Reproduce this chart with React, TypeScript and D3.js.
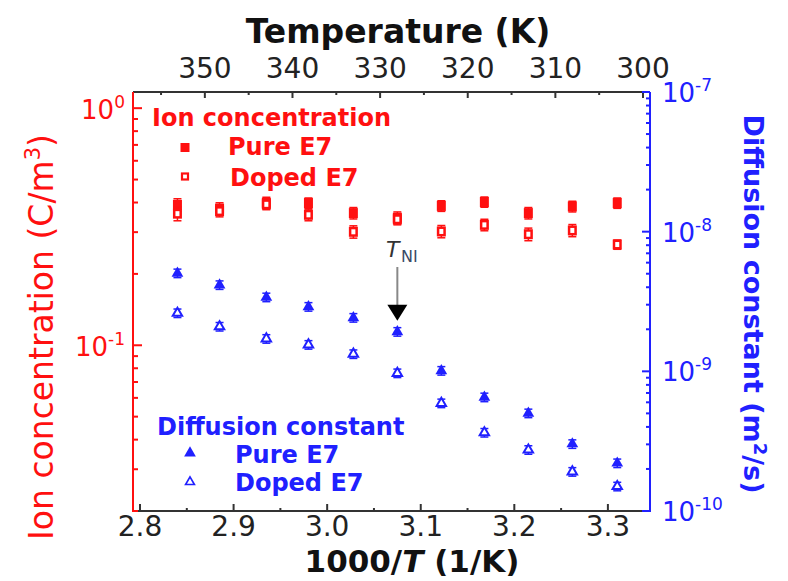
import React from "react";
import * as d3 from "d3";

// 1000/T positions of the measurements
const invT = [2.84, 2.885, 2.935, 2.98, 3.028, 3.075, 3.122, 3.168, 3.215, 3.262, 3.31];

// ion concentration (C/m^3)
const ionPure = [0.391, 0.377, 0.399, 0.398, 0.361, 0.345, 0.387, 0.402, 0.361, 0.385, 0.398];
const ionPureErr = [0.024, 0.022, 0.022, 0.02, 0.02, 0.02, 0.02, 0.02, 0.02, 0.02, 0.02];
const ionDoped = [0.359, 0.368, 0.393, 0.355, 0.301, 0.34, 0.302, 0.322, 0.294, 0.305, 0.266];
const ionDopedErr = [0.024, 0.02, 0.02, 0.02, 0.018, 0.018, 0.018, 0.018, 0.018, 0.018, 0.012];

// diffusion constant (m^2/s)
const diffPure = [5.04e-9, 4.15e-9, 3.39e-9, 2.9e-9, 2.42e-9, 1.92e-9, 1.01e-9, 6.52e-10, 5.01e-10, 3.02e-10, 2.2e-10];
const diffDoped = [2.61e-9, 2.09e-9, 1.71e-9, 1.55e-9, 1.33e-9, 9.7e-10, 5.91e-10, 3.64e-10, 2.74e-10, 1.91e-10, 1.5e-10];
const diffErrFrac = [0.07, 0.07, 0.07, 0.07, 0.07, 0.07, 0.07, 0.07, 0.07, 0.07, 0.07];

const bottomTicks = [2.8, 2.9, 3.0, 3.1, 3.2, 3.3];
const topTicks = [350, 340, 330, 320, 310, 300];
const leftMajors = [1, 0.1];
const rightMajors = [1e-7, 1e-8, 1e-9, 1e-10];

const TNI = 3.075; // 1000/T at the nematic-isotropic transition

const RED = "#ff1010";
const BLUE = "#2020ff";
const AXIS = "#333";
const FONT = "DejaVu Sans, Verdana, sans-serif";

const width = 788;
const height = 581;
const margin = { top: 92, right: 138, bottom: 70, left: 133 };

export default function App() {
  const x0 = margin.left;
  const x1 = width - margin.right;
  const y0 = height - margin.bottom;
  const y1 = margin.top;

  const x = d3.scaleLinear().domain([2.7925, 3.345]).range([x0, x1]);
  // top temperature axis is drawn linear in T in the original
  const xT = d3.scaleLinear().domain([358.2, 299.2]).range([x0, x1]);
  const yL = d3.scaleLog().domain([0.02, 1.17]).range([y0, y1]);
  const yR = d3.scaleLog().domain([1e-10, 1e-7]).range([y0, y1]);

  const leftTicks = yL.ticks();
  const rightTicks = yR.ticks();
  const bottomMinor = d3.range(2.85, 3.34, 0.1);
  const topMinor = d3.range(355, 299, -10);

  const tri = d3.symbol().type(d3.symbolTriangle).size(60);

  const expLabel = (v: number) => Math.round(Math.log10(v));

  return (
    <svg width={width} height={height} style={{ display: "block", position: "absolute", left: 0, top: 0 }} fontFamily={FONT}>
      <rect width={width} height={height} fill="#fff" />

      {/* top axis: temperature */}
      <text x={398} y={43} textAnchor="middle" fontSize={33} fontWeight="bold" fill="#111">
        Temperature (K)
      </text>
      <line x1={x0} x2={x1} y1={y1} y2={y1} stroke={AXIS} strokeWidth={2} />
      {topTicks.map((t) => (
        <g key={t}>
          <line x1={xT(t)} x2={xT(t)} y1={y1} y2={y1 + 6} stroke={AXIS} strokeWidth={2} />
          <text x={xT(t)} y={78} textAnchor="middle" fontSize={28} fill="#222">
            {t}
          </text>
        </g>
      ))}
      {topMinor.map((t) => (
        <line key={t} x1={xT(t)} x2={xT(t)} y1={y1} y2={y1 + 3} stroke={AXIS} strokeWidth={2} />
      ))}

      {/* bottom axis */}
      <line x1={x0} x2={x1} y1={y0} y2={y0} stroke={AXIS} strokeWidth={2} />
      {bottomTicks.map((t) => (
        <g key={t}>
          <line x1={x(t)} x2={x(t)} y1={y0} y2={y0 - 7} stroke={AXIS} strokeWidth={2} />
          <text x={x(t)} y={536} textAnchor="middle" fontSize={28} fill="#222">
            {t.toFixed(1)}
          </text>
        </g>
      ))}
      {bottomMinor.map((t) => (
        <line key={t} x1={x(t)} x2={x(t)} y1={y0} y2={y0 - 3} stroke={AXIS} strokeWidth={2} />
      ))}
      <text x={412} y={572} textAnchor="middle" fontSize={31} fontWeight="bold" fill="#111">
        1000/<tspan fontStyle="italic">T</tspan> (1/K)
      </text>

      {/* left axis: ion concentration */}
      <line x1={x0} x2={x0} y1={y0 + 1} y2={y1} stroke={RED} strokeWidth={2} />
      {leftTicks.map((t) => {
        const major = leftMajors.includes(t);
        return (
          <line key={t} x1={x0} x2={x0 + (major ? 9 : 5)} y1={yL(t)} y2={yL(t)} stroke={RED} strokeWidth={2} />
        );
      })}
      {leftMajors.map((t) => (
        <text key={t} x={125} y={yL(t) + 11} textAnchor="end" fontSize={26} fill={RED}>
          10<tspan dy={-11} fontSize={17}>{expLabel(t)}</tspan>
        </text>
      ))}
      <text
        transform={`translate(53,337) rotate(-90)`}
        textAnchor="middle"
        fontSize={33}
        fill={RED}
      >
        Ion concentration (C/m<tspan dy={-13} fontSize={21}>3</tspan>
        <tspan dy={13}>)</tspan>
      </text>

      {/* right axis: diffusion constant */}
      <line x1={x1} x2={x1} y1={y0 + 1} y2={y1} stroke={BLUE} strokeWidth={2} />
      {rightTicks.map((t) => {
        const major = rightMajors.some((m) => Math.abs(m - t) / m < 1e-6);
        return (
          <line key={t} x1={x1} x2={x1 - (major ? 8 : 4)} y1={yR(t)} y2={yR(t)} stroke={BLUE} strokeWidth={2} />
        );
      })}
      {rightMajors.map((t) => (
        <text key={t} x={662} y={yR(t) + 10} fontSize={26} fill={BLUE}>
          10<tspan dy={-11} fontSize={17}>{expLabel(t)}</tspan>
        </text>
      ))}
      <text
        transform={`translate(744,304) rotate(90)`}
        textAnchor="middle"
        fontSize={27}
        fontWeight="bold"
        fill={BLUE}
      >
        Diffusion constant (m<tspan dy={-10} fontSize={18}>2</tspan>
        <tspan dy={10}>/s)</tspan>
      </text>

      {/* ion concentration: pure */}
      {invT.map((v, i) => (
        <g key={"ip" + i}>
          <line x1={x(v)} x2={x(v)} y1={yL(ionPure[i] + ionPureErr[i])} y2={yL(ionPure[i] - ionPureErr[i])} stroke={RED} strokeWidth={1.5} />
          <line x1={x(v) - 4} x2={x(v) + 4} y1={yL(ionPure[i] + ionPureErr[i])} y2={yL(ionPure[i] + ionPureErr[i])} stroke={RED} strokeWidth={1.5} />
          <line x1={x(v) - 4} x2={x(v) + 4} y1={yL(ionPure[i] - ionPureErr[i])} y2={yL(ionPure[i] - ionPureErr[i])} stroke={RED} strokeWidth={1.5} />
          <rect x={x(v) - 4.5} y={yL(ionPure[i]) - 5} width={9} height={10} fill={RED} />
        </g>
      ))}
      {/* ion concentration: doped */}
      {invT.map((v, i) => (
        <g key={"id" + i}>
          <line x1={x(v)} x2={x(v)} y1={yL(ionDoped[i] + ionDopedErr[i])} y2={yL(ionDoped[i] - ionDopedErr[i])} stroke={RED} strokeWidth={1.5} />
          <line x1={x(v) - 4} x2={x(v) + 4} y1={yL(ionDoped[i] + ionDopedErr[i])} y2={yL(ionDoped[i] + ionDopedErr[i])} stroke={RED} strokeWidth={1.5} />
          <line x1={x(v) - 4} x2={x(v) + 4} y1={yL(ionDoped[i] - ionDopedErr[i])} y2={yL(ionDoped[i] - ionDopedErr[i])} stroke={RED} strokeWidth={1.5} />
          <rect x={x(v) - 3.25} y={yL(ionDoped[i]) - 3.75} width={6.5} height={7.5} fill="#fff" stroke={RED} strokeWidth={2.5} />
        </g>
      ))}

      {/* diffusion: pure */}
      {invT.map((v, i) => {
        const e = diffPure[i] * diffErrFrac[i];
        return (
          <g key={"dp" + i}>
            <line x1={x(v)} x2={x(v)} y1={yR(diffPure[i] + e)} y2={yR(diffPure[i] - e)} stroke={BLUE} strokeWidth={1.5} />
            <line x1={x(v) - 4} x2={x(v) + 4} y1={yR(diffPure[i] + e)} y2={yR(diffPure[i] + e)} stroke={BLUE} strokeWidth={1.5} />
            <line x1={x(v) - 4} x2={x(v) + 4} y1={yR(diffPure[i] - e)} y2={yR(diffPure[i] - e)} stroke={BLUE} strokeWidth={1.5} />
            <path d={tri() as string} transform={`translate(${x(v)},${yR(diffPure[i])})`} fill={BLUE} />
          </g>
        );
      })}
      {/* diffusion: doped */}
      {invT.map((v, i) => {
        const e = diffDoped[i] * diffErrFrac[i];
        return (
          <g key={"dd" + i}>
            <line x1={x(v)} x2={x(v)} y1={yR(diffDoped[i] + e)} y2={yR(diffDoped[i] - e)} stroke={BLUE} strokeWidth={1.5} />
            <line x1={x(v) - 4} x2={x(v) + 4} y1={yR(diffDoped[i] + e)} y2={yR(diffDoped[i] + e)} stroke={BLUE} strokeWidth={1.5} />
            <line x1={x(v) - 4} x2={x(v) + 4} y1={yR(diffDoped[i] - e)} y2={yR(diffDoped[i] - e)} stroke={BLUE} strokeWidth={1.5} />
            <path d={tri() as string} transform={`translate(${x(v)},${yR(diffDoped[i])}) scale(0.8)`} fill="#fff" stroke={BLUE} strokeWidth={2.5} />
          </g>
        );
      })}

      {/* T_NI marker */}
      <text x={386} y={257} fontSize={22} fontStyle="italic" fill="#333">
        T
      </text>
      <text x={401} y={262} fontSize={16} fill="#3a4a66">
        NI
      </text>
      <line x1={x(TNI)} x2={x(TNI)} y1={267} y2={306} stroke="#888" strokeWidth={2} />
      <path
        d={`M${x(TNI) - 10},${yR(diffPure[5]) - 27} L${x(TNI) + 10},${yR(diffPure[5]) - 27} L${x(TNI)},${yR(diffPure[5]) - 11} Z`}
        fill="#000"
      />

      {/* legends */}
      <g fontSize={24} fontWeight="bold">
        <text x={152} y={126} fill={RED}>Ion concentration</text>
        <rect x={180.5} y={143} width={9} height={9} fill={RED} />
        <text x={228} y={155} fill={RED}>Pure E7</text>
        <rect x={182} y={173.5} width={6} height={6} fill="#fff" stroke={RED} strokeWidth={2.2} />
        <text x={230} y={186} fill={RED}>Doped E7</text>

        <text x={157} y={435} fill={BLUE}>Diffusion constant</text>
        <path d={tri() as string} transform={`translate(190,453)`} fill={BLUE} />
        <text x={235} y={463} fill={BLUE}>Pure E7</text>
        <path d={tri() as string} transform={`translate(190,482) scale(0.75)`} fill="#fff" stroke={BLUE} strokeWidth={2.2} />
        <text x={235} y={491} fill={BLUE}>Doped E7</text>
      </g>
    </svg>
  );
}
